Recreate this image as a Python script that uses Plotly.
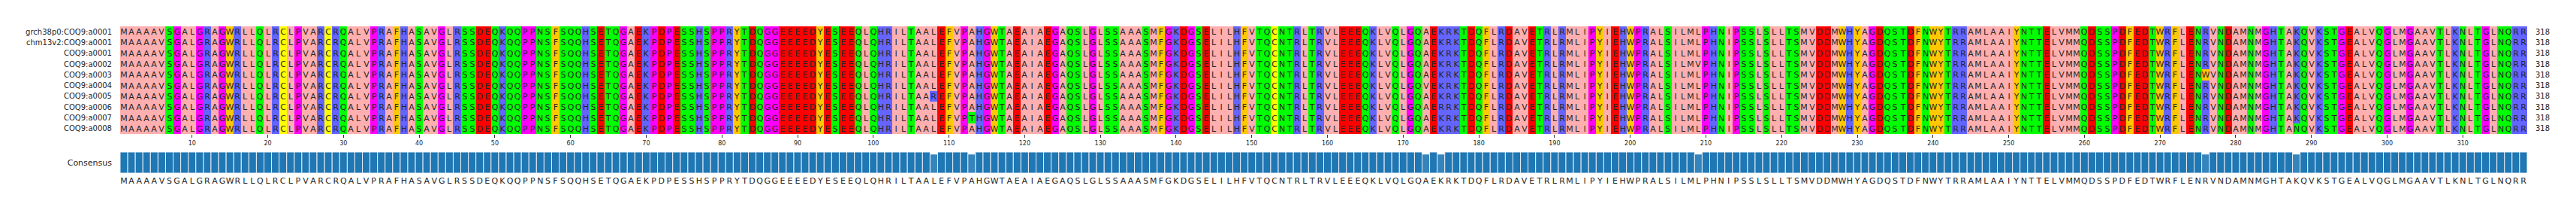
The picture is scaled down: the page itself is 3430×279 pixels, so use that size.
import plotly.graph_objects as go

# ---------------- data ----------------
seq_names = [
    "grch38p0:COQ9:a0001", "chm13v2:COQ9:a0001", "COQ9:a0001", "COQ9:a0002",
    "COQ9:a0003", "COQ9:a0004", "COQ9:a0005", "COQ9:a0006", "COQ9:a0007", "COQ9:a0008",
]

consensus_parts = [
    "MAAAAVSGALGRAGWRLLQLRCLP",
    "VARCRQALVPRAFHASAVGLRSSDEQKQQPPNSFSQQHSE",
    "TQGAEKPDPESSHSPPRYTDQGGEEEEDYESEEQLQHRI",
    "LTAALEFVPAHGWTAEAIAEGAQSLGLSSAAASMFGKDGS",
    "ELILHFVTQCNTRLTRVLEEEQKLVQLGQAEKRKTDQFLR",
    "DAVETRLRMLIPYIEHWPRALSILMLPHNIPSSLSLLTS",
    "MVDDMWHYAGDQSTDFNWYTRRAMLAAIYNTTELVMMQDS",
    "SPDFEDTWRFLENRVNDAMNMGHTAKQVKSTGEALVQGLMGAAVTLKNLTGLNQRR",
]

# (sequence name, 1-based position, residue) differences from consensus
substitutions = [
    ("COQ9:a0002", 209, "V"),
    ("COQ9:a0003", 276, "W"),
    ("COQ9:a0004", 173, "V"),
    ("COQ9:a0005", 108, "R"),
    ("COQ9:a0006", 175, "R"),
    ("COQ9:a0007", 113, "T"),
    ("COQ9:a0008", 288, "N"),
]

tick_positions = list(range(10, 320, 10))

# Zappo colour scheme
zappo_groups = [
    ("AILMV", "#ffafaf"),
    ("FWY", "#ffc800"),
    ("KRH", "#6464ff"),
    ("DE", "#ff0000"),
    ("STNQ", "#00ff00"),
    ("GP", "#ff00ff"),
    ("C", "#ffff00"),
]
consensus_color = (31, 119, 180)

# ---------------- build ----------------
consensus = "".join(consensus_parts)
L = len(consensus)
seqs = []
for name in seq_names:
    s = list(consensus)
    for n, pos, aa in substitutions:
        if n == name:
            s[pos - 1] = aa
    seqs.append("".join(s))

def group_index(c):
    for k, (letters, _) in enumerate(zappo_groups):
        if c in letters:
            return k
    return 0

ng = len(zappo_groups)
colorscale = [[k / (ng - 1), col] for k, (_, col) in enumerate(zappo_groups)]

z = [[group_index(c) for c in s] for s in seqs]
txt = [list(s) for s in seqs]
xs = list(range(1, L + 1))
ys = list(range(len(seqs)))

identity = []
for i in range(L):
    col = [s[i] for s in seqs]
    identity.append(100.0 * sum(1 for c in col if c == consensus[i]) / len(col))

def blend(v):
    f = v / 100.0
    r = round(255 + f * (consensus_color[0] - 255))
    g = round(255 + f * (consensus_color[1] - 255))
    b = round(255 + f * (consensus_color[2] - 255))
    return f"rgb({r},{g},{b})"

bar_colors = [blend(v) for v in identity]
lengths = [str(len(s.replace("-", ""))) for s in seqs]

FONT = "DejaVu Sans, sans-serif"
TXT = "#262626"

W, H = 3430, 279
x0, x1 = 160 / W, 3365 / W
aln_dom = [1 - 178 / H, 1 - 35 / H]
bar_dom = [1 - 230 / H, 1 - 202 / H]

fig = go.Figure()
fig.add_trace(go.Heatmap(
    z=z, x=xs, y=ys, text=txt, texttemplate="%{text}",
    textfont=dict(family=FONT, size=11, color=TXT),
    colorscale=colorscale, zmin=0, zmax=ng - 1, showscale=False,
    hoverinfo="skip", xaxis="x", yaxis="y",
))
fig.add_trace(go.Scatter(x=[None], y=[None], xaxis="x", yaxis="y2",
                         showlegend=False, hoverinfo="skip"))
fig.add_trace(go.Bar(
    x=xs, y=identity, width=1, marker=dict(color=bar_colors, line=dict(color="#e8eef4", width=1)),
    xaxis="x2", yaxis="y3", showlegend=False, hoverinfo="skip",
))

fig.update_layout(
    width=W, height=H, margin=dict(l=0, r=0, t=0, b=0),
    paper_bgcolor="white", plot_bgcolor="white", showlegend=False,
    font=dict(family=FONT, color=TXT),
    xaxis=dict(domain=[x0, x1], range=[0.5, L + 0.5], anchor="y",
               tickvals=tick_positions, ticks="outside", ticklen=4, tickwidth=1,
               tickcolor="#333333", tickfont=dict(size=8, color=TXT),
               showgrid=False, zeroline=False, showline=False, fixedrange=True),
    yaxis=dict(domain=aln_dom, range=[len(seqs) - 0.5, -0.5], anchor="x",
               tickvals=ys, ticktext=seq_names, ticks="", ticklabelstandoff=10,
               tickfont=dict(size=10, color=TXT),
               showgrid=False, zeroline=False, showline=False),
    yaxis2=dict(overlaying="y", side="right", anchor="x", range=[len(seqs) - 0.5, -0.5],
                tickvals=ys, ticktext=lengths, ticks="", ticklabelstandoff=10,
                tickfont=dict(size=10, color=TXT),
                showgrid=False, zeroline=False, showline=False),
    xaxis2=dict(domain=[x0, x1], range=[0.5, L + 0.5], anchor="y3",
                tickvals=xs, ticktext=list(consensus), ticks="", ticklabelstandoff=2,
                tickfont=dict(size=11, color=TXT), tickangle=0,
                showgrid=False, zeroline=False, showline=False),
    yaxis3=dict(domain=bar_dom, range=[0, 100], anchor="x2",
                tickvals=[50], ticktext=["Consensus"], ticks="", ticklabelstandoff=10,
                tickfont=dict(size=11, color=TXT),
                showgrid=False, zeroline=False, showline=False),
)

fig.write_html("out.html")
